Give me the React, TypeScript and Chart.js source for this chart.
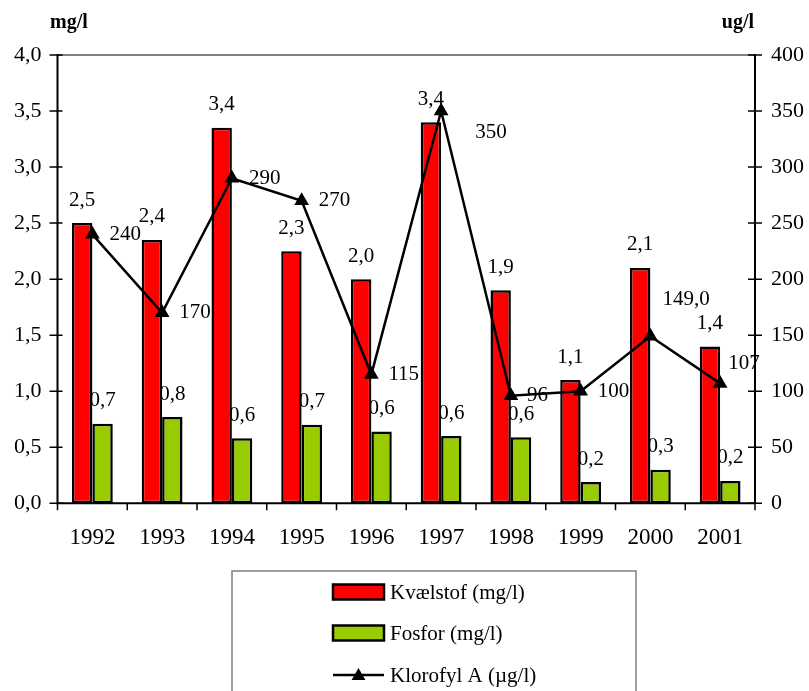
import React, { useEffect, useRef } from "react";
import { Chart, registerables } from "chart.js";

Chart.register(...registerables);

// Årlige middelværdier
const years = ["1992", "1993", "1994", "1995", "1996", "1997", "1998", "1999", "2000", "2001"];
const kvaelstof = [2.5, 2.35, 3.35, 2.25, 2.0, 3.4, 1.9, 1.1, 2.1, 1.4];
const fosfor = [0.71, 0.77, 0.58, 0.7, 0.64, 0.6, 0.59, 0.19, 0.3, 0.2];
const klorofyl = [240, 170, 290, 270, 115, 350, 96, 100, 149, 107];
const klorofylDecimals = [0, 0, 0, 0, 0, 0, 0, 0, 1, 0];

// Akser
const leftMax = 4;
const leftStep = 0.5;
const rightMax = 400;
const rightStep = 50;
const leftTitle = "mg/l";
const rightTitle = "ug/l";

const legendLabels = ["Kvælstof (mg/l)", "Fosfor (mg/l)", "Klorofyl A (µg/l)"];

// Label placement next to the chlorophyll points (pixels)
const klorofylLabelShift: [number, number][] = [
  [17, 0], [17, 0], [17, 0], [17, 0], [17, 0],
  [34, 21], [16, 0], [17, 0], [12, -37], [8, -20],
];

const RED = "#FF0000";
const GREEN = "#99CC00";
const SERIF = "'Liberation Serif', 'Times New Roman', Times, serif";

const comma = (v: number, d: number) => v.toFixed(d).replace(".", ",");

const drawTriangle = (ctx: CanvasRenderingContext2D, x: number, y: number, r: number) => {
  const edge = Math.sqrt(3) * r;
  ctx.beginPath();
  ctx.moveTo(x, y - r);
  ctx.lineTo(x + edge / 2, y + r / 2);
  ctx.lineTo(x - edge / 2, y + r / 2);
  ctx.closePath();
  ctx.fill();
};

const framePlugin = {
  id: "frame",
  beforeDatasetsDraw(chart: any) {
    const { ctx, chartArea: a } = chart;
    ctx.save();
    ctx.strokeStyle = "#808080";
    ctx.lineWidth = 2;
    ctx.beginPath();
    ctx.moveTo(a.left, a.top);
    ctx.lineTo(a.right, a.top);
    ctx.stroke();
    ctx.restore();
  },
  afterDatasetsDraw(chart: any) {
    const { ctx, chartArea: a, scales } = chart;
    const yL = scales.y;
    const yR = scales.y2;
    const x = scales.x;
    ctx.save();
    ctx.strokeStyle = "#000";
    ctx.lineWidth = 2;
    ctx.beginPath();
    ctx.moveTo(a.left, a.top - 1);
    ctx.lineTo(a.left, a.bottom);
    ctx.lineTo(a.right, a.bottom);
    ctx.moveTo(a.right, a.top - 1);
    ctx.lineTo(a.right, a.bottom);
    ctx.stroke();

    ctx.lineWidth = 1.5;
    ctx.beginPath();
    for (let v = 0; v <= leftMax + 1e-9; v += leftStep) {
      const py = yL.getPixelForValue(v);
      ctx.moveTo(a.left - 8, py);
      ctx.lineTo(a.left + 5, py);
    }
    for (let v = 0; v <= rightMax; v += rightStep) {
      const py = yR.getPixelForValue(v);
      ctx.moveTo(a.right - 7, py);
      ctx.lineTo(a.right + 7, py);
    }
    const n = years.length;
    const step = x.getPixelForValue(1) - x.getPixelForValue(0);
    for (let i = 0; i <= n; i++) {
      const px = i === n ? a.right : x.getPixelForValue(i) - step / 2;
      ctx.moveTo(px, a.bottom);
      ctx.lineTo(px, a.bottom + 7);
    }
    ctx.stroke();

    // axis titles
    ctx.fillStyle = "#000";
    ctx.font = `bold 20px ${SERIF}`;
    ctx.textBaseline = "alphabetic";
    ctx.textAlign = "left";
    ctx.fillText(leftTitle, 50, 28);
    ctx.textAlign = "right";
    ctx.fillText(rightTitle, 754, 28);

    // value labels
    ctx.font = `21px ${SERIF}`;
    ctx.textBaseline = "middle";
    ctx.textAlign = "center";
    [kvaelstof, fosfor].forEach((vals, di) => {
      const meta = chart.getDatasetMeta(di + 1);
      meta.data.forEach((el: any, i: number) => {
        ctx.fillText(comma(vals[i], 1), el.x, el.y - 23);
      });
    });
    ctx.textAlign = "left";
    const lineMeta = chart.getDatasetMeta(0);
    lineMeta.data.forEach((el: any, i: number) => {
      const [dx, dy] = klorofylLabelShift[i];
      ctx.fillText(comma(klorofyl[i], klorofylDecimals[i]), el.x + dx, el.y + dy);
    });
    ctx.restore();
  },
  afterDraw(chart: any) {
    const { ctx } = chart;
    ctx.save();
    // legend box
    ctx.strokeStyle = "#808080";
    ctx.lineWidth = 1.5;
    ctx.strokeRect(232, 571, 404, 140);

    const sx = 333;
    const sw = 51;
    const rows = [592, 633, 675];
    ctx.lineWidth = 2.5;
    ctx.strokeStyle = "#000";
    [RED, GREEN].forEach((c, i) => {
      ctx.fillStyle = c;
      ctx.fillRect(sx, rows[i] - 7.5, sw, 15);
      ctx.strokeRect(sx, rows[i] - 7.5, sw, 15);
    });
    ctx.beginPath();
    ctx.moveTo(sx, rows[2]);
    ctx.lineTo(sx + sw, rows[2]);
    ctx.stroke();
    ctx.fillStyle = "#000";
    drawTriangle(ctx, sx + sw / 2, rows[2] + 1, 8);

    ctx.font = `21px ${SERIF}`;
    ctx.textBaseline = "middle";
    ctx.textAlign = "left";
    legendLabels.forEach((t, i) => ctx.fillText(t, sx + sw + 6, rows[i] + 1));
    ctx.restore();
  },
};

export default function App() {
  const ref = useRef<HTMLCanvasElement | null>(null);

  useEffect(() => {
    if (!ref.current) return;
    Chart.defaults.font.family = SERIF;
    Chart.defaults.color = "#000";
    const chart = new Chart(ref.current, {
      type: "bar",
      data: {
        labels: years,
        datasets: [
          {
            type: "line",
            label: legendLabels[2],
            data: klorofyl,
            yAxisID: "y2",
            borderColor: "#000",
            borderWidth: 2.5,
            backgroundColor: "#000",
            pointStyle: "triangle",
            pointRadius: 8.5,
            pointBackgroundColor: "#000",
            pointBorderWidth: 0,
            tension: 0,
            order: 0,
          } as any,
          {
            type: "bar",
            label: legendLabels[0],
            data: kvaelstof,
            yAxisID: "y",
            backgroundColor: RED,
            borderColor: "#000",
            borderWidth: 2.5,
            borderSkipped: false,
            categoryPercentage: 0.585,
            barPercentage: 1,
            order: 1,
          },
          {
            type: "bar",
            label: legendLabels[1],
            data: fosfor,
            yAxisID: "y",
            backgroundColor: GREEN,
            borderColor: "#000",
            borderWidth: 2.5,
            borderSkipped: false,
            categoryPercentage: 0.585,
            barPercentage: 1,
            order: 1,
          },
        ],
      },
      options: {
        responsive: false,
        animation: false,
        events: [],
        layout: { padding: { top: 55, left: 0, right: 0, bottom: 0 } },
        plugins: {
          legend: { display: false },
          tooltip: { enabled: false },
          title: { display: false },
        },
        scales: {
          x: {
            type: "category",
            offset: true,
            grid: { display: false, drawTicks: false },
            border: { display: false },
            ticks: { font: { size: 23 }, color: "#000", padding: 21, maxRotation: 0 },
            afterFit: (s: any) => {
              s.height = 691 - 503.3;
            },
          },
          y: {
            type: "linear",
            position: "left",
            min: 0,
            max: leftMax,
            grid: { display: false, drawTicks: false },
            border: { display: false },
            ticks: {
              stepSize: leftStep,
              font: { size: 22 },
              color: "#000",
              padding: 16,
              callback: (v: any) => comma(Number(v), 1),
            },
            afterFit: (s: any) => {
              s.width = 57.5;
            },
          },
          y2: {
            type: "linear",
            position: "right",
            min: 0,
            max: rightMax,
            grid: { display: false, drawTicks: false },
            border: { display: false },
            ticks: {
              stepSize: rightStep,
              font: { size: 22 },
              color: "#000",
              padding: 16,
              callback: (v: any) => String(v),
            },
            afterFit: (s: any) => {
              s.width = 809 - 755;
            },
          },
        },
      },
      plugins: [framePlugin],
    });
    return () => chart.destroy();
  }, []);

  return (
    <div style={{ position: "fixed", left: 0, top: 0, width: 809, height: 691, background: "#fff" }}>
      <canvas ref={ref} width={809} height={691} style={{ width: 809, height: 691, display: "block" }} />
    </div>
  );
}
